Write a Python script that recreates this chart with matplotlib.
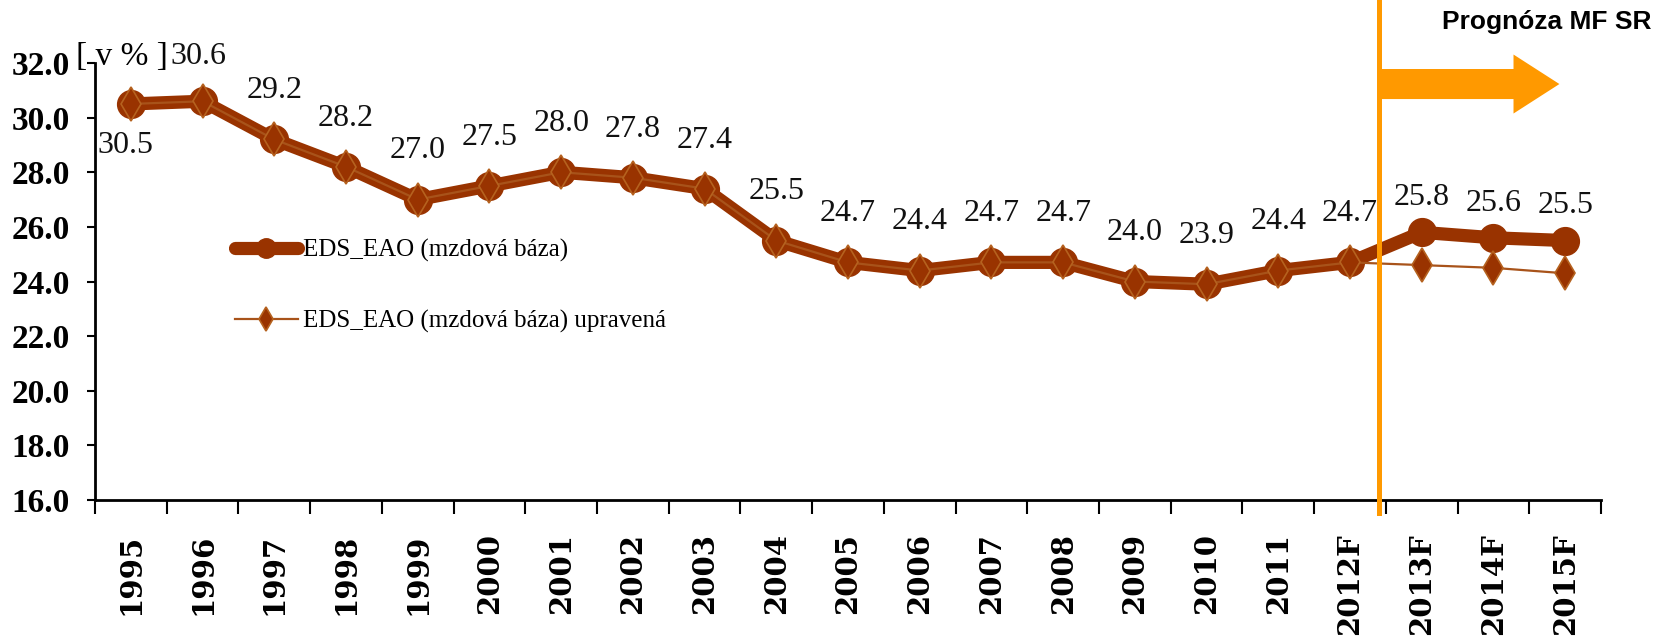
import matplotlib

matplotlib.use("Agg")
import matplotlib.pyplot as plt
from matplotlib.patches import FancyArrow

years = ["1995", "1996", "1997", "1998", "1999", "2000", "2001", "2002", "2003",
         "2004", "2005", "2006", "2007", "2008", "2009", "2010", "2011",
         "2012F", "2013F", "2014F", "2015F"]
eds_eao = [30.5, 30.6, 29.2, 28.2, 27.0, 27.5, 28.0, 27.8, 27.4, 25.5, 24.7,
           24.4, 24.7, 24.7, 24.0, 23.9, 24.4, 24.7, 25.8, 25.6, 25.5]
eds_eao_adj = [30.5, 30.6, 29.2, 28.2, 27.0, 27.5, 28.0, 27.8, 27.4, 25.5, 24.7,
               24.4, 24.7, 24.7, 24.0, 23.9, 24.4, 24.7, 24.6, 24.5, 24.3]
y_ticks = [16, 18, 20, 22, 24, 26, 28, 30, 32]
forecast_split = 17.4

DARK = "#993300"
THIN = "#A8531A"
ORANGE = "#FF9900"
SERIF = "Liberation Serif"

fig = plt.figure(figsize=(16.63, 6.38), dpi=100)
ax = fig.add_axes([95 / 1663, 138 / 638, 1506 / 1663, 437 / 638])

xs = list(range(len(years)))
ax.plot(xs, eds_eao, color=DARK, lw=9.5, marker="o", ms=20,
        solid_capstyle="round", label="EDS_EAO (mzdová báza)", zorder=3)
ax.plot(xs, eds_eao_adj, color=THIN, lw=1.6, marker="d", ms=17,
        markerfacecolor=DARK, markeredgecolor="#B5621F", markeredgewidth=1.2,
        label="EDS_EAO (mzdová báza) upravená", zorder=4)

# data labels for the main series
for i, v in enumerate(eds_eao):
    if i == 0:
        dx, dy = -4, -30
    elif i == 1:
        dx, dy = -3, 32
    elif i >= 18:
        dx, dy = 0, 25
    else:
        dx, dy = 0, 35
    ax.annotate(f"{v:.1f}", (i, v), xytext=(dx, dy), textcoords="offset points",
                ha="center", va="center", fontsize=23, family=SERIF, color="#111111")

ax.set_xlim(-0.5, len(years) - 0.5)
ax.set_ylim(16, 32)
ax.set_yticks(y_ticks)
ax.set_yticklabels([f"{t:.1f}" for t in y_ticks], family=SERIF,
                   fontweight="bold", fontsize=24)
ax.set_xticks(xs)
ax.set_xticklabels(years, rotation=90, family="DejaVu Serif",
                   fontweight="bold", fontsize=21)
ax.set_xticks([x - 0.5 for x in range(len(years) + 1)], minor=True)
ax.tick_params(axis="x", which="major", length=0, pad=24)
ax.tick_params(axis="x", which="minor", length=10, width=1.5, direction="out")
ax.tick_params(axis="y", length=6, width=1.5, direction="out", pad=12)

for side in ("top", "right"):
    ax.spines[side].set_visible(False)
for side in ("left", "bottom"):
    ax.spines[side].set_linewidth(2)

# forecast marker: vertical line + arrow
ax.axvline(forecast_split, ymin=-0.03, ymax=1.3, color=ORANGE, lw=3.6,
           clip_on=False, zorder=5)
arrow = FancyArrow(forecast_split, 31.23, 19.92 - forecast_split, 0,
                   width=1.1, head_width=2.16, head_length=0.64,
                   length_includes_head=True, color=ORANGE, lw=0, clip_on=False)
ax.add_patch(arrow)

fig.text(1652 / 1663, 1 - 22 / 638, "Prognóza MF SR", ha="right", va="center",
         fontsize=19, fontweight="bold", family="Liberation Sans")
fig.text(76 / 1663, 1 - 57 / 638, "[ v % ]", ha="left", va="center",
         fontsize=24, family=SERIF)

leg = ax.legend(loc="center left", bbox_to_anchor=(0.093, 0.49), frameon=False,
                prop={"family": SERIF, "size": 18}, handlelength=2.5,
                handletextpad=0.2, labelspacing=1.9, borderpad=0,
                borderaxespad=0, markerscale=0.7)

fig.savefig("out.png", dpi=100)
